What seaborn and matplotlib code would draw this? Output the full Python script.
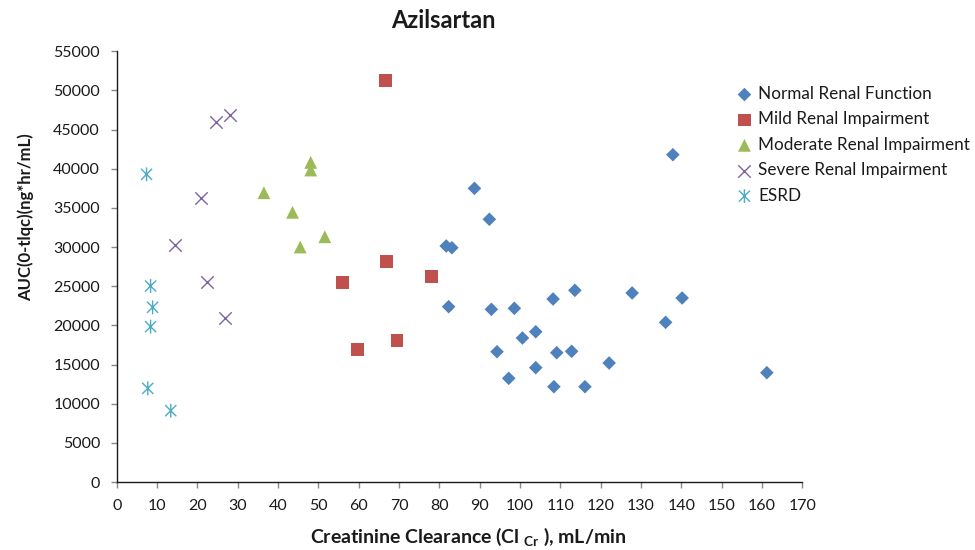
import numpy as np
import pandas as pd
import matplotlib
matplotlib.use("Agg")
import matplotlib.pyplot as plt
from matplotlib.path import Path
import seaborn as sns

# ---- data ----
normal_x = [81.7, 83.1, 88.7, 92.4, 82.3, 92.9, 98.6, 108.2, 113.6, 127.8, 103.9, 100.6,
            94.3, 109.1, 112.8, 122.1, 103.9, 97.2, 108.4, 116.1, 137.9, 140.2, 136.1, 161.2]
normal_y = [30140, 29920, 37500, 33550, 22390, 22050, 22180, 23370, 24480, 24140, 19190, 18390,
            16640, 16510, 16690, 15200, 14600, 13240, 12170, 12170, 41800, 23500, 20390, 13960]
mild_x = [66.6, 66.8, 55.9, 78.1, 69.5, 59.8]
mild_y = [51300, 28180, 25450, 26220, 18090, 16900]
moderate_x = [48.1, 48.1, 43.6, 51.6, 45.5, 36.5]
moderate_y = [40820, 39840, 34440, 31320, 30010, 36940]
severe_x = [24.5, 28.1, 20.8, 14.5, 22.3, 26.9]
severe_y = [46010, 46870, 36230, 30260, 25580, 20900]
esrd_x = [7.4, 8.4, 8.9, 8.4, 7.7, 13.4]
esrd_y = [39290, 25030, 22310, 19840, 11960, 9110]

groups = ["Normal Renal Function", "Mild Renal Impairment", "Moderate Renal Impairment",
          "Severe Renal Impairment", "ESRD"]
x_ticks = list(range(0, 171, 10))
y_ticks = list(range(0, 55001, 5000))

frames = []
for g, xs, ys in zip(groups, [normal_x, mild_x, moderate_x, severe_x, esrd_x],
                     [normal_y, mild_y, moderate_y, severe_y, esrd_y]):
    frames.append(pd.DataFrame({"clcr": xs, "auc": ys, "group": g}))
df = pd.concat(frames, ignore_index=True)

# ---- style ----
sns.set_theme(style="white")
plt.rcParams["font.family"] = ["Lato", "DejaVu Sans"]
plt.rcParams["mathtext.fontset"] = "custom"
plt.rcParams["mathtext.bf"] = "Lato:bold"
plt.rcParams["mathtext.rm"] = "Lato"

# asterisk marker (x with vertical bar)
star_path = Path([(-1, -1), (1, 1), (-1, 1), (1, -1), (0, -1.25), (0, 1.25)],
                 [Path.MOVETO, Path.LINETO, Path.MOVETO, Path.LINETO, Path.MOVETO, Path.LINETO])

styles = {
    "Normal Renal Function": dict(marker="D", s=48, color="#4F81BD", edgecolor="none"),
    "Mild Renal Impairment": dict(marker="s", s=85, color="#C0504D", edgecolor="none"),
    "Moderate Renal Impairment": dict(marker="^", s=85, color="#9BBB59", edgecolor="none"),
    "Severe Renal Impairment": dict(marker="x", s=80, color="#8064A2", linewidth=1.0),
    "ESRD": dict(marker=star_path, s=100, facecolor="none", edgecolor="#4BACC6", linewidth=1.0),
}

fig = plt.figure(figsize=(9.75, 5.5), dpi=100)
ax = fig.add_axes([0.1197, 0.1236, 0.8229 - 0.1197, 0.9067 - 0.1236])

for g in groups:
    sub = df[df["group"] == g]
    sns.scatterplot(data=sub, x="clcr", y="auc", ax=ax, label=g, **styles[g])

ax.set_xlim(0, 170)
ax.set_ylim(0, 55000)
ax.set_xticks(x_ticks)
ax.set_yticks(y_ticks)
ax.set_xticklabels([str(v) for v in x_ticks])
ax.set_yticklabels([str(v) for v in y_ticks])
for side in ["top", "right"]:
    ax.spines[side].set_visible(False)
for side in ["left", "bottom"]:
    ax.spines[side].set_color("#1a1a1a")
    ax.spines[side].set_linewidth(1.0)
ax.tick_params(axis="both", which="major", direction="out", length=4, width=1,
               color="#888888", labelsize=11.5, labelcolor="#1a1a1a",
               bottom=True, left=True)
ax.tick_params(axis="x", pad=8)
ax.tick_params(axis="y", pad=8)
ax.grid(False)

ax.set_xlabel("Creatinine Clearance (Cl $_{\\mathbf{Cr}}$ ), mL/min", fontsize=14,
              fontweight="bold", color="#1a1a1a", va="center", ha="center")
ax.xaxis.set_label_coords(0.512, -0.128)
ax.set_ylabel("")
fig.text(25.5 / 975, 1 - 217.5 / 550, "AUC(0-tlqc)(ng*hr/mL)", rotation=90,
         ha="center", va="center", fontsize=12, fontweight="bold", color="#1a1a1a")
fig.text(0.455, 0.962, "Azilsartan", ha="center", va="center", fontsize=17,
         fontweight="bold", color="#1a1a1a")

ax.get_legend().remove()
handles, labels = ax.get_legend_handles_labels()
leg = fig.legend(handles, labels, loc="upper left", bbox_to_anchor=(0.746, 0.856),
                 frameon=False, fontsize=12.3, handletextpad=0.2, labelspacing=0.55,
                 handlelength=1.2, borderaxespad=0, markerscale=1.0)
for t in leg.get_texts():
    t.set_color("#1a1a1a")

fig.savefig("out.png", dpi=100)
